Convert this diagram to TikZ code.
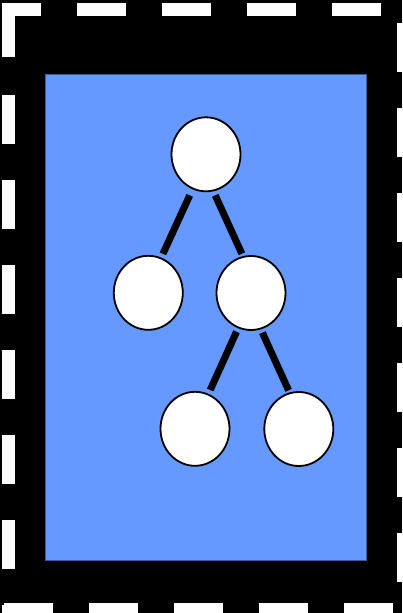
\documentclass[tikz,border=0pt]{standalone}
\usetikzlibrary{shapes.geometric}
\definecolor{panelblue}{HTML}{6699FF}
\definecolor{paneledge}{HTML}{3A5A9E}
\begin{document}
\begin{tikzpicture}[x=1pt,y=-1pt,
  treenode/.style={ellipse, draw=black, fill=white, line width=1.8pt,
    minimum width=69pt, minimum height=74pt, inner sep=0pt, outer sep=0pt},
  edge/.style={line width=7pt, draw=black},
  dashline/.style={draw=white, line width=13pt, dash pattern=on 49pt off 36pt}]
\useasboundingbox (0,0) rectangle (402,613);
\clip (0,0) rectangle (402,613);
\fill[black] (0,0) rectangle (402,613);
% dashed frame, one side at a time
\draw[dashline, dash phase=10pt] (2,9.5) -- (403.5,9.5);
\draw[dashline, dash phase=71.5pt] (403.5,9.5) -- (403.5,616);
\draw[dashline, dash phase=74.5pt] (403.5,609.5) -- (2,609.5);
\draw[dashline, dash phase=38pt] (8.5,616) -- (8.5,90);
\draw[draw=white, line width=13pt, line join=miter] (8.5,57) -- (8.5,9.5) -- (41,9.5);
% blue panel
\draw[fill=panelblue, draw=paneledge, line width=1pt] (45.5,74) rectangle (366,560.5);
% tree
\node[treenode] (root) at (206,154.3) {};
\node[treenode] (l) at (148.3,292.8) {};
\node[treenode] (r) at (251,293) {};
\node[treenode] (rl) at (195,428.8) {};
\node[treenode] (rr) at (298.8,429) {};
\draw[edge, shorten <=7.5pt, shorten >=5pt] (root.249) -- (l.70);
\draw[edge, shorten <=5.3pt, shorten >=3.5pt] (root.281) -- (r.102);
\draw[edge, shorten <=4.7pt, shorten >=5pt] (r.250) -- (rl.69);
\draw[edge, shorten <=4.5pt, shorten >=3.2pt] (r.285) -- (rr.104);
\end{tikzpicture}
\end{document}
